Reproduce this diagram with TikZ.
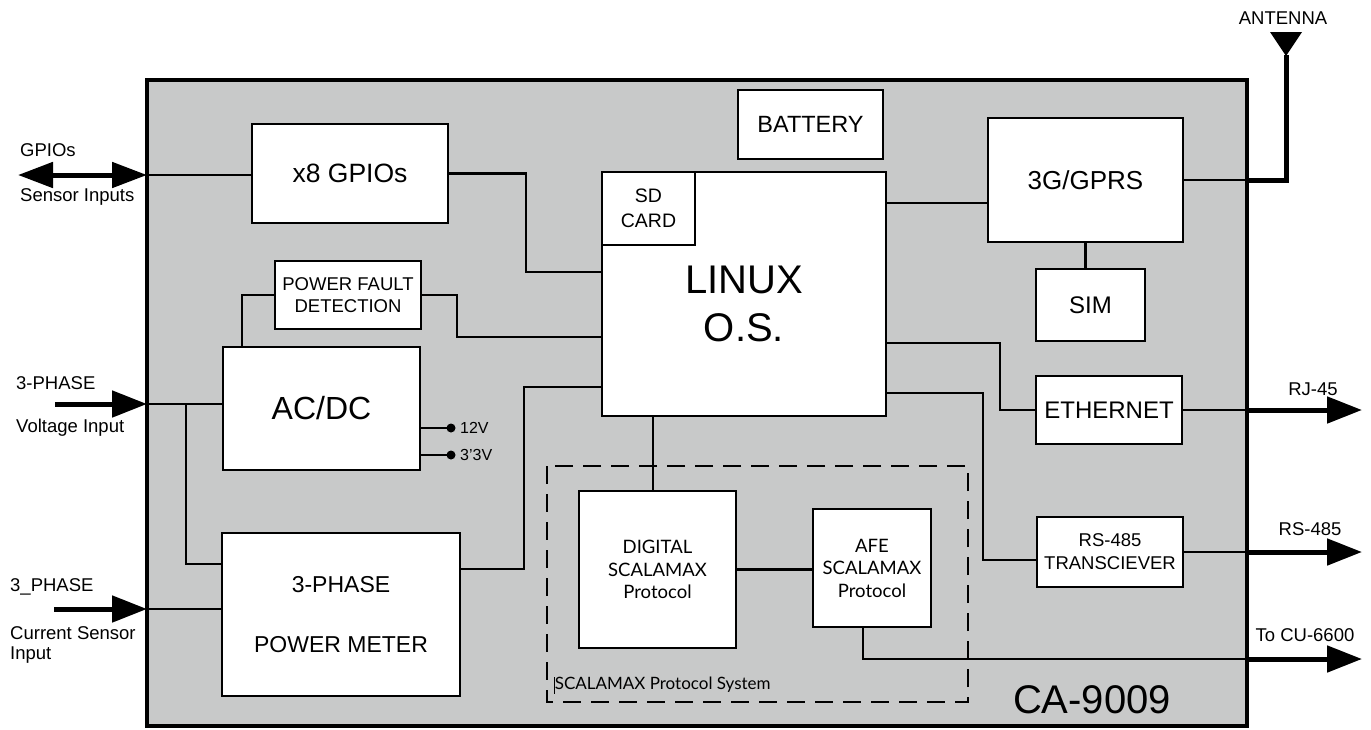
\documentclass[tikz,border=0pt]{standalone}
\usepackage{fontspec}
\setmainfont{Liberation Sans}
\newfontfamily\latofont{Lato}
\usetikzlibrary{arrows.meta}
\definecolor{panel}{RGB}{200,201,201}
\begin{document}
\begin{tikzpicture}[x=1pt,y=-1pt,
  blk/.style={draw, fill=white, line width=2.8pt, inner sep=0pt, align=center},
  conn/.style={line width=2.6pt},
  thickarr/.style={line width=5pt, -{Triangle[length=35pt,width=26pt]}},
  dblarr/.style={line width=5pt, {Triangle[length=35pt,width=25pt]}-{Triangle[length=35pt,width=25pt]}},
  lbl/.style={inner sep=0pt, font=\fontsize{18.5}{22}\selectfont},
  lato/.style={font=\latofont\fontsize{18.5}{22.5}\selectfont},
  ]
\useasboundingbox (0,0) rectangle (1371,729);
% main panel
\node[draw, fill=panel, line width=3.2pt, inner sep=0pt, minimum width=1100pt, minimum height=646pt] (main) at (697,403) {};
% dashed group
\draw[line width=2.4pt, dash pattern=on 18pt off 10pt] (547,466) rectangle (968,702);
\node[anchor=west, inner sep=0pt, font=\latofont\fontsize{17}{20}\selectfont] (grp) at (554,685) {\rule[-4pt]{0.6pt}{17pt}SCALAMAX Protocol System};
% blocks
\node[blk, minimum width=196pt, minimum height=99pt, font=\fontsize{26.5}{30}\selectfont] (gpio) at (350,173.5) {x8 GPIOs};
\node[blk, minimum width=146pt, minimum height=68pt, font=\fontsize{18.5}{22}\selectfont] (pfd) at (348,295) {POWER FAULT\\DETECTION};
\node[blk, minimum width=197pt, minimum height=123pt, font=\fontsize{32}{36}\selectfont] (acdc) at (321.5,408.5) {AC/DC};
\node[blk, minimum width=238pt, minimum height=163pt, font=\fontsize{23}{60}\selectfont] (pm) at (341,614.5) {3-PHASE\\POWER METER};
\node[blk, minimum width=284pt, minimum height=244pt] (linux) at (744,294) {};
\node[draw, line width=1.2pt, inner sep=0pt, align=center, minimum width=93pt, minimum height=73pt, font=\fontsize{19.5}{25}\selectfont] (sd) at (648.5,208.5) {SD\\CARD};
\node[align=center, inner sep=0pt, font=\fontsize{40}{48}\selectfont] (linuxtxt) at (744,304) {LINUX\\O.S.};
\node[blk, minimum width=145pt, minimum height=69pt, font=\fontsize{23.5}{28}\selectfont] (bat) at (810.5,124.5) {BATTERY};
\node[blk, minimum width=195pt, minimum height=124pt, font=\fontsize{26}{30}\selectfont] (gprs) at (1085.5,180) {3G/GPRS};
\node[blk, minimum width=109pt, minimum height=72pt, font=\fontsize{24}{28}\selectfont] (sim) at (1090.5,305) {SIM};
\node[blk, minimum width=146pt, minimum height=68pt, font=\fontsize{24}{28}\selectfont] (eth) at (1109,410) {ETHERNET};
\node[blk, minimum width=146pt, minimum height=70pt, font=\fontsize{18.5}{23}\selectfont] (rs) at (1110,552) {RS-485\\TRANSCIEVER};
\node[blk, lato, minimum width=157pt, minimum height=157pt] (dig) at (657.5,569.5) {DIGITAL\\SCALAMAX\\Protocol};
\node[blk, lato, minimum width=118pt, minimum height=118pt] (afe) at (872,568) {AFE\\SCALAMAX\\Protocol};
\node[inner sep=0pt, font=\fontsize{40}{48}\selectfont] (model) at (1092,700) {CA-9009};
% coordinates
\coordinate (c1) at (526,272);
\coordinate (c2) at (457,337);
\coordinate (c3) at (242,347);
\coordinate (vin) at (147,404);
\coordinate (vsrc) at (55,404);
\coordinate (c4) at (186,404);
\coordinate (c5) at (186,564);
\coordinate (cin) at (147,609);
\coordinate (csrc) at (54,609);
\coordinate (c6) at (524,569);
\coordinate (c7) at (524,387);
\coordinate (c8) at (886,203);
\coordinate (c9) at (886,343);
\coordinate (c10) at (1000,410);
\coordinate (c11) at (886,393);
\coordinate (c12) at (983,560);
\coordinate (c13) at (653,416);
\coordinate (c15) at (863,627);
\coordinate (c16) at (1247,659);
\coordinate (gin) at (147,175);
\coordinate (gsrc) at (18,175);
\coordinate (ant) at (1286,180);
\coordinate (antop) at (1286,55);
\coordinate (ethb) at (1247,410);
\coordinate (ethout) at (1362,410);
\coordinate (rsb) at (1247,552);
\coordinate (rsout) at (1362,552);
\coordinate (cuout) at (1362,659);
\coordinate (d12) at (451,428);
\coordinate (d33) at (451,455);
% connectors
\draw[conn] (gin) -- (gpio.west |- gin);
\draw[conn] (gpio.east) -| (c1) -- (linux.west |- c1);
\draw[conn] (pfd.east) -| (c2) -- (linux.west |- c2);
\draw[conn] (pfd.west) -| (c3);
\draw[conn] (vin) -- (acdc.west |- vin);
\draw[conn] (c4) |- (pm.west |- c5);
\draw[conn] (cin) -- (pm.west |- cin);
\draw[conn] (pm.east |- c6) -- (c6) -- (c7) -- (linux.west |- c7);
\draw[conn] (c8) -- (gprs.west |- c8);
\draw[conn] (gprs.south) -- (sim.north -| gprs.south);
\draw[conn] (c9) -| (c10) -- (eth.west |- c10);
\draw[conn] (c11) -| (c12) -- (rs.west |- c12);
\draw[conn] (c13) -- (dig.north -| c13);
\draw[conn] (dig.east) -- (afe.west |- dig.east);
\draw[conn] (c15) |- (c16);
\draw[conn] (gprs.east) -- (main.east |- gprs.east);
\draw[conn] (eth.east) -- (ethb);
\draw[conn] (rs.east) -- (rsb);
\draw[conn] (acdc.east |- d12) -- (d12);
\draw[conn] (acdc.east |- d33) -- (d33);
\fill (d12) circle (4.5pt);
\fill (d33) circle (4.5pt);
% external thick arrows
\draw[dblarr] (gsrc) -- (gin);
\draw[thickarr] (vsrc) -- (vin);
\draw[thickarr] (csrc) -- (cin);
\draw[thickarr] (ethb) -- (ethout);
\draw[thickarr] (rsb) -- (rsout);
\draw[thickarr] (c16) -- (cuout);
\draw[line width=5pt] (main.east |- ant) -- (ant) -- (antop);
\fill (1270,32) -- (1302,32) -- (1286,56) -- cycle;
% labels
\node[lbl, anchor=west] (l1) at (20,150) {GPIOs};
\node[lbl, anchor=west] (l2) at (20,197) {Sensor Inputs};
\node[lbl, anchor=west] (l3) at (16,383) {3-PHASE};
\node[lbl, anchor=west] (l4) at (16,428) {Voltage Input};
\node[lbl, anchor=west] (l5) at (10,587) {3\_PHASE};
\node[lbl, anchor=west] (l6) at (10,633) {Current Sensor};
\node[lbl, anchor=west] (l7) at (10,655) {Input};
\node[lbl] (l8) at (1283,18) {ANTENNA};
\node[lbl] (l9) at (1313,389) {RJ-45};
\node[lbl] (l10) at (1310,529) {RS-485};
\node[lbl] (l11) at (1305,635) {To CU-6600};
\node[inner sep=0pt, anchor=west, font=\fontsize{16}{19}\selectfont] (v12) at (460,428) {12V};
\node[inner sep=0pt, anchor=west, font=\fontsize{16}{19}\selectfont] (v33) at (460,455) {3'3V};
\end{tikzpicture}
\end{document}
